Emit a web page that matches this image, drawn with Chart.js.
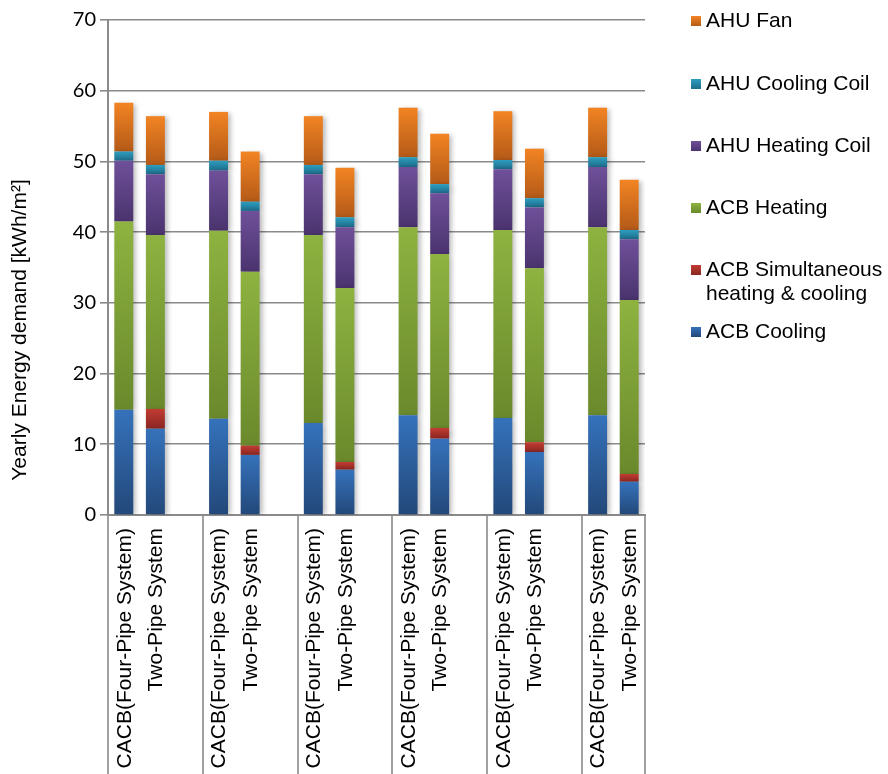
<!DOCTYPE html>
<html><head><meta charset="utf-8">
<script src="https://cdn.jsdelivr.net/npm/chart.js@4"></script>
<style>html,body{margin:0;padding:0;background:#fff}#wrap{width:888px;height:774px}</style>
</head><body><div id="wrap"><canvas id="c" width="888" height="774"></canvas></div>
<script>
// ---- data ----
const categories = [
  'CACB(Four-Pipe System)','Two-Pipe System','',
  'CACB(Four-Pipe System)','Two-Pipe System','',
  'CACB(Four-Pipe System)','Two-Pipe System','',
  'CACB(Four-Pipe System)','Two-Pipe System','',
  'CACB(Four-Pipe System)','Two-Pipe System','',
  'CACB(Four-Pipe System)','Two-Pipe System'
];
const acbCooling      = [14.9, 12.2, null, 13.6, 8.5, null, 13.0, 6.4, null, 14.1, 10.8, null, 13.7, 8.9, null, 14.1, 4.7];
const acbSimultaneous = [0, 2.8, null, 0, 1.3, null, 0, 1.1, null, 0, 1.5, null, 0, 1.4, null, 0, 1.1];
const acbHeating      = [26.6, 24.6, null, 26.6, 24.6, null, 26.6, 24.6, null, 26.6, 24.6, null, 26.6, 24.6, null, 26.6, 24.6];
const ahuHeatingCoil  = [8.6, 8.6, null, 8.5, 8.6, null, 8.6, 8.6, null, 8.5, 8.6, null, 8.6, 8.6, null, 8.5, 8.6];
const ahuCoolingCoil  = [1.3, 1.3, null, 1.4, 1.3, null, 1.3, 1.4, null, 1.4, 1.3, null, 1.3, 1.3, null, 1.4, 1.3];
const ahuFan          = [6.9, 6.9, null, 6.9, 7.1, null, 6.9, 7.0, null, 7.0, 7.1, null, 6.9, 7.0, null, 7.0, 7.1];
const seriesNames = ['ACB Cooling','ACB Simultaneous heating & cooling','ACB Heating','AHU Heating Coil','AHU Cooling Coil','AHU Fan'];
const legendLines = [['AHU Fan'],['AHU Cooling Coil'],['AHU Heating Coil'],['ACB Heating'],['ACB Simultaneous','heating & cooling'],['ACB Cooling']];
const yMin = 0, yMax = 70, yStep = 10;
const yAxisTitle = 'Yearly Energy demand [kWh/m²]';
const groupSize = 3;

// ---- styles ----
const seriesValues = [acbCooling, acbSimultaneous, acbHeating, ahuHeatingCoil, ahuCoolingCoil, ahuFan];
const topCol = ['#3572bb','#c23c33','#8eb340','#6f509a','#2e9dbf','#f28423'];
const botCol = ['#234879','#8a2521','#6a892c','#4a336e','#1d6c8a','#b45a18'];
const midCol = ['#2d60a0','#a8302b','#7ea136','#5d4486','#2585a5','#dc7420'];
const gridCol = '#8a8a8a';
const FONT = '"Liberation Sans", Arial, sans-serif';

function gradFor(i) {
  return function(ctx) {
    const chart = ctx.chart, ys = chart.scales && chart.scales.y;
    if (ctx.type !== 'data' || !ys || !chart.chartArea) return midCol[i];
    const idx = ctx.dataIndex;
    let base = 0;
    for (let k = 0; k < i; k++) base += (seriesValues[k][idx] || 0);
    const top = base + (seriesValues[i][idx] || 0);
    const y0 = ys.getPixelForValue(top), y1 = ys.getPixelForValue(base);
    if (!isFinite(y0) || !isFinite(y1) || Math.abs(y1 - y0) < 0.5) return midCol[i];
    const g = chart.ctx.createLinearGradient(0, y0, 0, y1);
    g.addColorStop(0, topCol[i]);
    g.addColorStop(1, botCol[i]);
    return g;
  };
}

const datasets = seriesValues.map((vals, i) => ({
  label: seriesNames[i],
  data: vals,
  backgroundColor: gradFor(i),
  borderWidth: 0,
  barPercentage: 0.6,
  categoryPercentage: 1.0,
  stack: 's'
}));

const shadowPlugin = {
  id: 'shadow',
  beforeDatasetsDraw(chart) {
    const c = chart.ctx; c.save();
    c.shadowColor = 'rgba(0,0,0,0.28)'; c.shadowBlur = 5; c.shadowOffsetX = 3; c.shadowOffsetY = 1;
  },
  afterDatasetsDraw(chart) { chart.ctx.restore(); }
};

const decoPlugin = {
  id: 'deco',
  afterDraw(chart) {
    const c = chart.ctx, xs = chart.scales.x, area = chart.chartArea;
    const n = categories.length, slot = (xs.right - xs.left) / n;
    // separators below axis
    c.save();
    c.strokeStyle = gridCol; c.lineWidth = 1.6;
    const bounds = [];
    for (let k = 0; k < n; k += groupSize) bounds.push(k);
    bounds.push(n);
    bounds.forEach(k => {
      const x = Math.round(xs.left + k * slot);
      c.beginPath(); c.moveTo(x, area.bottom); c.lineTo(x, chart.height); c.stroke();
    });
    // category labels (rotated, reading bottom to top)
    c.fillStyle = '#000'; c.font = '21px ' + FONT;
    c.textAlign = 'right'; c.textBaseline = 'middle';
    categories.forEach((lab, i) => {
      if (!lab) return;
      const x = xs.getPixelForValue(i);
      c.save(); c.translate(x + 1, area.bottom + 13); c.rotate(-Math.PI / 2);
      c.fillText(lab, 0, 0); c.restore();
    });
    // y axis title
    c.save(); c.translate(20, 330); c.rotate(-Math.PI / 2);
    c.textAlign = 'center'; c.textBaseline = 'middle'; c.font = '21px ' + FONT;
    c.fillText(yAxisTitle, 0, 0); c.restore();
    // legend
    const rowsY = [21, 84, 146, 208, 270, 332];
    c.font = '21px ' + FONT; c.textAlign = 'left'; c.textBaseline = 'middle';
    legendLines.forEach((lines, r) => {
      const si = seriesValues.length - 1 - r;
      const y = rowsY[r];
      const g = c.createLinearGradient(0, y - 5, 0, y + 5);
      g.addColorStop(0, topCol[si]); g.addColorStop(1, botCol[si]);
      c.fillStyle = g; c.fillRect(691, y - 5, 10, 10);
      c.fillStyle = '#000';
      lines.forEach((t, j) => c.fillText(t, 706, y + j * 24));
    });
    c.restore();
  }
};

new Chart(document.getElementById('c'), {
  type: 'bar',
  data: { labels: categories, datasets },
  options: {
    responsive: false,
    animation: false,
    devicePixelRatio: 1,
    layout: { padding: { top: 20, right: 243, bottom: 0, left: 0 } },
    plugins: { legend: { display: false }, tooltip: { enabled: false } },
    scales: {
      x: {
        stacked: true,
        grid: { display: false },
        border: { display: true, color: gridCol, width: 2 },
        ticks: { display: false },
        afterFit(s) { s.height = 259; }
      },
      y: {
        stacked: true,
        min: yMin, max: yMax,
        ticks: { stepSize: yStep, color: '#000', font: { family: 'Lato, "Liberation Sans", sans-serif', size: 20 }, padding: 4 },
        grid: { color: gridCol, lineWidth: 1.6, tickLength: 8 },
        border: { display: true, color: gridCol, width: 2 },
        afterFit(s) { s.width = 108; }
      }
    }
  },
  plugins: [shadowPlugin, decoPlugin]
});
</script>
</body></html>
